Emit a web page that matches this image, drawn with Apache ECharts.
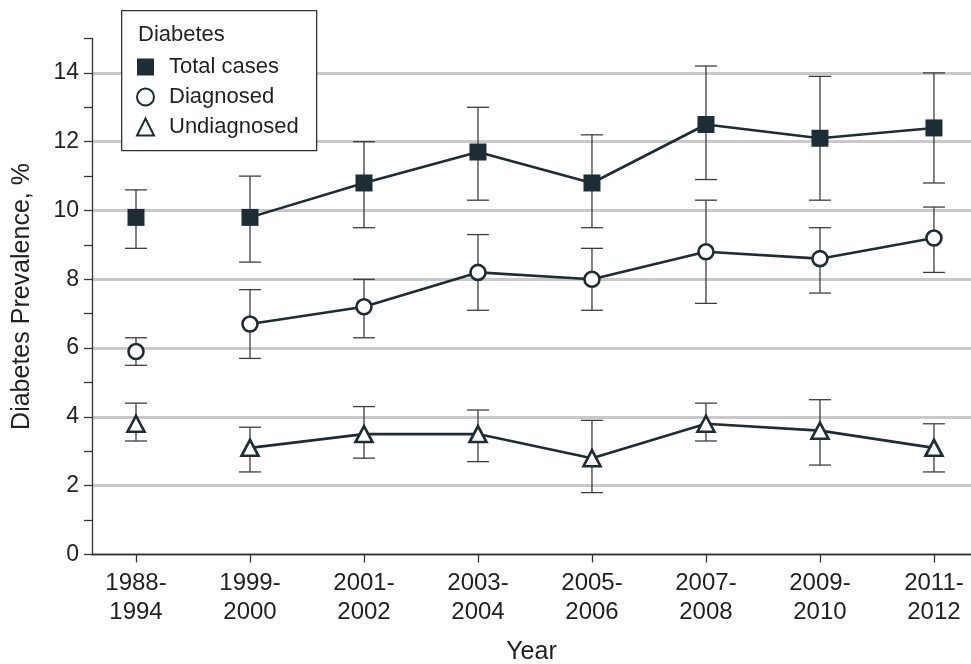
<!DOCTYPE html>
<html>
<head>
<meta charset="utf-8">
<script src="https://cdn.jsdelivr.net/npm/echarts@6/dist/echarts.min.js"></script>
<style>
  html, body { margin: 0; padding: 0; background: #fff; }
  #chart { width: 971px; height: 664px; }
</style>
</head>
<body>
<div id="chart"></div>
<script>
// Survey periods (NHANES cycles)
const periods = ['1988-\n1994', '1999-\n2000', '2001-\n2002', '2003-\n2004',
                 '2005-\n2006', '2007-\n2008', '2009-\n2010', '2011-\n2012'];

// Prevalence estimates, %
const totalCases  = [9.8, 9.8, 10.8, 11.7, 10.8, 12.5, 12.1, 12.4];
const diagnosed   = [5.9, 6.7, 7.2, 8.2, 8.0, 8.8, 8.6, 9.2];
const undiagnosed = [3.8, 3.1, 3.5, 3.5, 2.8, 3.8, 3.6, 3.1];

// 95% CI bounds
const totalLow   = [8.9, 8.5, 9.5, 10.3, 9.5, 10.9, 10.3, 10.8];
const totalHigh  = [10.6, 11.0, 12.0, 13.0, 12.2, 14.2, 13.9, 14.0];
const diagLow    = [5.5, 5.7, 6.3, 7.1, 7.1, 7.3, 7.6, 8.2];
const diagHigh   = [6.3, 7.7, 8.0, 9.3, 8.9, 10.3, 9.5, 10.1];
const undiagLow  = [3.3, 2.4, 2.8, 2.7, 1.8, 3.3, 2.6, 2.4];
const undiagHigh = [4.4, 3.7, 4.3, 4.2, 3.9, 4.4, 4.5, 3.8];

const ink = '#1b2d35';
const textColor = '#231f20';
const fontFamily = '"Liberation Sans", Arial, sans-serif';

const chart = echarts.init(document.getElementById('chart'), null, { renderer: 'canvas' });

// The 1988-1994 estimate stands apart; lines join 1999-2000 onward.
function joined(values) {
  return values.map((v, i) => [i, v]).slice(1);
}
function firstOnly(values) {
  return [[0, values[0]]];
}
function ciData(low, high) {
  return low.map((l, i) => [i, l, high[i]]);
}

function errorBars(name, low, high) {
  return {
    type: 'custom',
    name: name + ' CI',
    z: 1,
    silent: true,
    data: ciData(low, high),
    encode: { x: 0, y: [1, 2] },
    renderItem: function (params, api) {
      const x = api.value(0);
      const lo = api.coord([x, api.value(1)]);
      const hi = api.coord([x, api.value(2)]);
      const half = 11;
      const style = { stroke: '#3d3d3d', lineWidth: 1.3, fill: null };
      return {
        type: 'group',
        children: [
          { type: 'line', shape: { x1: lo[0], y1: lo[1], x2: hi[0], y2: hi[1] }, style },
          { type: 'line', shape: { x1: lo[0] - half, y1: lo[1], x2: lo[0] + half, y2: lo[1] }, style },
          { type: 'line', shape: { x1: hi[0] - half, y1: hi[1], x2: hi[0] + half, y2: hi[1] }, style }
        ]
      };
    }
  };
}

const styles = {
  'Total cases': { symbol: 'rect', symbolSize: 17, itemStyle: { color: ink, borderWidth: 0, opacity: 1 } },
  'Diagnosed':   { symbol: 'circle', symbolSize: 15, itemStyle: { color: '#fff', borderColor: ink, borderWidth: 2.6, opacity: 1 } },
  'Undiagnosed': { symbol: 'triangle', symbolSize: [17, 16], itemStyle: { color: '#fff', borderColor: ink, borderWidth: 2.6, opacity: 1 } }
};

function lineSeries(name, values) {
  const s = styles[name];
  return [
    {
      type: 'line', name: name, z: 3,
      data: joined(values),
      symbol: s.symbol, symbolSize: s.symbolSize, showAllSymbol: true,
      lineStyle: { color: ink, width: 2.6 },
      itemStyle: s.itemStyle,
      emphasis: { disabled: true },
      animation: false
    },
    {
      type: 'scatter', name: name, z: 3,
      data: firstOnly(values),
      symbol: s.symbol, symbolSize: s.symbolSize,
      itemStyle: s.itemStyle,
      emphasis: { disabled: true },
      animation: false
    }
  ];
}

const option = {
  backgroundColor: '#fff',
  animation: false,
  textStyle: { fontFamily: fontFamily, color: textColor },
  grid: { left: 92, right: 0, top: 38.5, bottom: 109.5, containLabel: false, outerBoundsMode: 'none' },
  xAxis: {
    type: 'value',
    min: -0.386,
    max: 7.325,
    name: 'Year',
    nameLocation: 'middle',
    nameGap: 85,
    nameMoveOverlap: false,
    nameTextStyle: { fontSize: 25, color: textColor, fontFamily: fontFamily },
    axisLine: { show: true, onZero: false, lineStyle: { color: '#333', width: 1.3 } },
    axisTick: { show: true, length: 8, customValues: periods.map((p, i) => i), lineStyle: { color: '#333', width: 1.3 } },
    axisLabel: {
      customValues: periods.map((p, i) => i),
      formatter: v => periods[Math.round(v)],
      fontSize: 24, lineHeight: 29, margin: 14, color: textColor, fontFamily: fontFamily
    },
    splitLine: { show: false }
  },
  yAxis: {
    type: 'value',
    min: 0,
    max: 15,
    interval: 1,
    name: 'Diabetes Prevalence, %',
    nameLocation: 'middle',
    nameGap: 57,
    nameMoveOverlap: false,
    nameTextStyle: { fontSize: 25, color: textColor, fontFamily: fontFamily },
    axisLine: { show: true, onZero: false, lineStyle: { color: '#333', width: 1.3 } },
    axisTick: { show: true, length: 8, lineStyle: { color: '#333', width: 1.3 } },
    axisLabel: {
      formatter: v => (v % 2 === 0 && v <= 14 ? String(v) : ''),
      fontSize: 23, margin: 13, color: textColor, fontFamily: fontFamily
    },
    splitLine: { show: true, lineStyle: { color: ['#c9c9c9', 'rgba(0,0,0,0)'], width: 3 } }
  },
  legend: {
    orient: 'vertical',
    left: 131,
    top: 51,
    z: 30,
    itemWidth: 17,
    itemHeight: 17,
    itemGap: 8,
    selectedMode: false,
    textStyle: { fontSize: 22, color: textColor, fontFamily: fontFamily, padding: [0, 0, 0, 10] },
    data: [
      { name: 'Total cases', icon: 'rect' },
      { name: 'Diagnosed', icon: 'circle' },
      { name: 'Undiagnosed', icon: 'triangle' }
    ]
  },
  graphic: [
    {
      type: 'rect', left: 121, top: 10, z: 20,
      shape: { width: 195, height: 140 },
      style: { fill: '#fff', stroke: '#333', lineWidth: 1.3 }
    },
    {
      type: 'text', left: 138, top: 24, z: 21,
      style: { text: 'Diabetes', font: '22px ' + fontFamily, fill: textColor }
    }
  ],
  series: [
    errorBars('Total cases', totalLow, totalHigh),
    errorBars('Diagnosed', diagLow, diagHigh),
    errorBars('Undiagnosed', undiagLow, undiagHigh),
    ...lineSeries('Total cases', totalCases),
    ...lineSeries('Diagnosed', diagnosed),
    ...lineSeries('Undiagnosed', undiagnosed)
  ]
};

chart.setOption(option);
</script>
</body>
</html>
